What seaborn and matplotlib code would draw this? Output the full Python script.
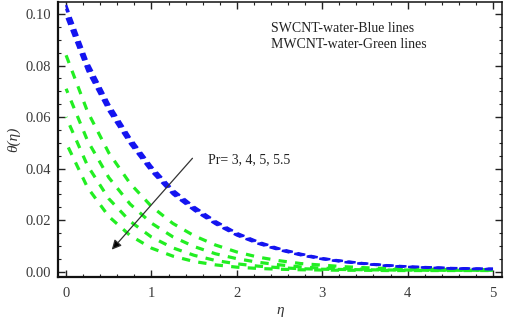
import numpy as np
import pandas as pd
import matplotlib
matplotlib.use("Agg")
import matplotlib.pyplot as plt
import seaborn as sns

# ---- data ----
eta = [0.0, 0.25, 0.5, 0.75, 1.0, 1.25, 1.5, 1.75, 2.0, 2.25, 2.5,
       2.75, 3.0, 3.25, 3.5, 3.75, 4.0, 4.25, 4.5, 4.75, 5.0]

# SWCNT-water (blue), Pr = 3, 4, 5, 5.5
swcnt_pr3 = [0.1035, 0.0815, 0.0652, 0.0520, 0.0409, 0.0318, 0.0252, 0.0196, 0.0150, 0.0116, 0.0089,
             0.0069, 0.0052, 0.0041, 0.0032, 0.0025, 0.0020, 0.0017, 0.0014, 0.0012, 0.0011]
swcnt_pr4 = [0.1020, 0.0803, 0.0642, 0.0512, 0.0402, 0.0312, 0.0247, 0.0192, 0.0147, 0.0113, 0.0087,
             0.0067, 0.0051, 0.0040, 0.0031, 0.0024, 0.0019, 0.0016, 0.0013, 0.0011, 0.0010]
swcnt_pr5 = [0.1005, 0.0790, 0.0632, 0.0503, 0.0395, 0.0306, 0.0242, 0.0188, 0.0143, 0.0110, 0.0085,
             0.0065, 0.0049, 0.0038, 0.0030, 0.0023, 0.0018, 0.0015, 0.0013, 0.0011, 0.0010]
swcnt_pr55 = [0.0990, 0.0778, 0.0622, 0.0495, 0.0388, 0.0300, 0.0237, 0.0184, 0.0140, 0.0108, 0.0083,
              0.0063, 0.0048, 0.0037, 0.0029, 0.0022, 0.0018, 0.0015, 0.0012, 0.0010, 0.0009]

# MWCNT-water (green), Pr = 3, 4, 5, 5.5
mwcnt_pr3 = [0.0840, 0.0622, 0.0461, 0.0342, 0.0253, 0.0187, 0.0139, 0.0103, 0.0076, 0.0056, 0.0042,
             0.0031, 0.0025, 0.0019, 0.0015, 0.0012, 0.0010, 0.0009, 0.0008, 0.0007, 0.0007]
mwcnt_pr4 = [0.0710, 0.0509, 0.0365, 0.0262, 0.0188, 0.0135, 0.0097, 0.0069, 0.0050, 0.0036, 0.0026,
             0.0018, 0.0013, 0.0011, 0.0009, 0.0008, 0.0007, 0.0007, 0.0006, 0.0006, 0.0006]
mwcnt_pr5 = [0.0600, 0.0412, 0.0283, 0.0195, 0.0134, 0.0092, 0.0063, 0.0043, 0.0030, 0.0021, 0.0015,
             0.0011, 0.0009, 0.0008, 0.0007, 0.0006, 0.0006, 0.0005, 0.0005, 0.0005, 0.0005]
mwcnt_pr55 = [0.0500, 0.0327, 0.0214, 0.0140, 0.0091, 0.0060, 0.0039, 0.0026, 0.0017, 0.0012, 0.0009,
              0.0007, 0.0006, 0.0005, 0.0005, 0.0004, 0.0004, 0.0004, 0.0004, 0.0004, 0.0004]

blue_series = [swcnt_pr3, swcnt_pr4, swcnt_pr5, swcnt_pr55]
green_series = [mwcnt_pr3, mwcnt_pr4, mwcnt_pr5, mwcnt_pr55]

x_ticks = [0, 1, 2, 3, 4, 5]
y_ticks = [0.00, 0.02, 0.04, 0.06, 0.08, 0.10]
y_tick_labels = ["0.00", "0.02", "0.04", "0.06", "0.08", "0.10"]

legend_lines = ["SWCNT-water-Blue lines", "MWCNT-water-Green lines"]
pr_label = "Pr= 3, 4, 5, 5.5"

# ---- plotting ----
sns.set_style("ticks")
plt.rcParams['font.family'] = ['Liberation Serif', 'DejaVu Serif']

fig = plt.figure(figsize=(5.05, 3.27), dpi=100)
ax = fig.add_axes([0.115, 0.153, 0.879, 0.841])

BLUE = "#1414f0"
GREEN = "#22ee22"

for i, ys in enumerate(green_series):
    df = pd.DataFrame({"eta": eta, "theta": ys})
    sns.lineplot(data=df, x="eta", y="theta", ax=ax, color=GREEN, lw=2.3, sort=False)
    ax.lines[-1].set_linestyle((i * 1.2, (2.6, 2.6)))

for i, ys in enumerate(blue_series):
    df = pd.DataFrame({"eta": eta, "theta": ys})
    sns.lineplot(data=df, x="eta", y="theta", ax=ax, color=BLUE, lw=1.7, sort=False)
    ax.lines[-1].set_linestyle((i * 1.6, (3.2, 2.2)))

ax.set_xlim(-0.094, 5.105)
ax.set_ylim(-0.0021, 0.1047)

ax.set_xticks(x_ticks)
ax.set_xticklabels([str(t) for t in x_ticks])
ax.set_yticks(y_ticks)
ax.set_yticklabels(y_tick_labels)
ax.set_xticks(np.arange(0, 5.01, 0.2), minor=True)
ax.set_yticks(np.arange(0, 0.1041, 0.005), minor=True)

ax.tick_params(which="both", direction="in", top=True, right=True,
               labelsize=10.5, labelcolor="#3a3a3a", color="#222222")
ax.tick_params(which="major", length=5, width=1.0)
ax.tick_params(which="minor", length=2.5, width=0.8)
ax.tick_params(axis="x", which="major", pad=7)
ax.tick_params(axis="y", which="major", pad=5)

for s in ax.spines.values():
    s.set_visible(True)
    s.set_color("#111111")
    s.set_linewidth(1.1)
ax.spines["bottom"].set_linewidth(1.6)
ax.spines["left"].set_linewidth(1.6)

ax.set_xlabel("η", fontsize=11, fontstyle="italic", color="#333333", labelpad=3)
ax.set_ylabel("θ(η)", fontsize=11, fontstyle="italic", color="#333333", labelpad=4)

ax.text(0.48, 0.89, legend_lines[0], transform=ax.transAxes, fontsize=10,
        color="#222222", va="baseline", ha="left")
ax.text(0.48, 0.834, legend_lines[1], transform=ax.transAxes, fontsize=10,
        color="#222222", va="baseline", ha="left")
ax.text(1.66, 0.0435, pr_label, fontsize=10, color="#222222", va="center", ha="left")

ax.annotate("", xy=(0.535, 0.0085), xytext=(1.48, 0.0440),
            arrowprops=dict(arrowstyle="-|>", color="#333333", lw=0.9,
                            mutation_scale=14, shrinkA=0, shrinkB=0,
                            fc="black"))

fig.savefig("out.png", dpi=100)
